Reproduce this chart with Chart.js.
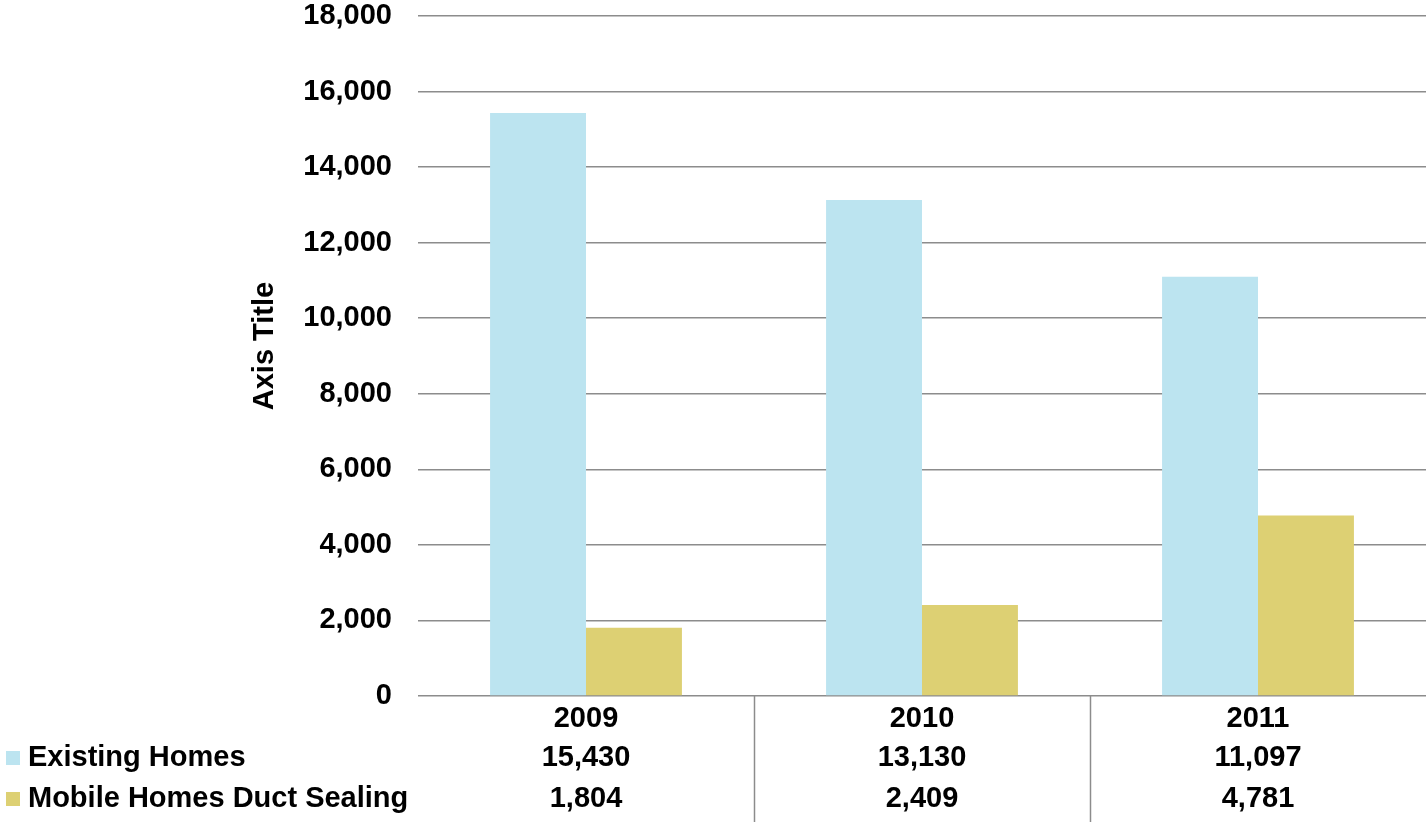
<!DOCTYPE html>
<html>
<head>
<meta charset="utf-8">
<title>Existing Homes and Mobile Homes Duct Sealing, 2009–2011</title>
<script src="https://cdn.jsdelivr.net/npm/chart.js@4/dist/chart.umd.min.js"></script>
<style>
  html, body { margin: 0; padding: 0; background: #ffffff; }
  #wrap { width: 1426px; height: 822px; }
</style>
</head>
<body>
<div id="wrap"><canvas id="chart" width="1426" height="822"></canvas></div>
<script>
// Years shown along the category axis and in the data table header
const categories = ['2009', '2010', '2011'];
// Series values
const existingHomes = [15430, 13130, 11097];
const mobileHomesDuctSealing = [1804, 2409, 4781];
// Series names
const seriesNames = ['Existing Homes', 'Mobile Homes Duct Sealing'];
// Value axis range
const yMin = 0;
const yMax = 18000;
const yStep = 2000;
const yAxisTitle = 'Axis Title';

const FONT = '"Liberation Sans", Arial, Helvetica, sans-serif';
const FONT_SIZE = 29;
const COLORS = ['#BCE4F0', '#DDD073'];
const GRID = '#8C8C8C';

const fmt = v => v.toLocaleString('en-US');

// Vertical value-axis title, sitting a little above the middle of the plot
const axisTitle = {
  id: 'axisTitle',
  afterDraw(chart) {
    const { ctx, chartArea } = chart;
    ctx.save();
    ctx.translate(265, (chartArea.top + chartArea.bottom) / 2 - 10);
    ctx.rotate(-Math.PI / 2);
    ctx.font = 'bold ' + FONT_SIZE + 'px ' + FONT;
    ctx.fillStyle = '#000000';
    ctx.textAlign = 'center';
    ctx.textBaseline = 'middle';
    ctx.fillText(yAxisTitle, 0, 0);
    ctx.restore();
  }
};

// Data table under the plot: legend keys, series names and values per year
const dataTable = {
  id: 'dataTable',
  afterDraw(chart) {
    const { ctx, chartArea, scales: { x } } = chart;
    const rows = [
      { name: seriesNames[0], color: COLORS[0], values: existingHomes, y: chartArea.bottom + 62 },
      { name: seriesNames[1], color: COLORS[1], values: mobileHomesDuctSealing, y: chartArea.bottom + 103 }
    ];
    ctx.save();
    // column separators
    ctx.strokeStyle = GRID;
    ctx.lineWidth = 1.5;
    for (let i = 1; i < categories.length; i++) {
      const xb = Math.round((x.getPixelForValue(i - 1) + x.getPixelForValue(i)) / 2) + 0.5;
      ctx.beginPath();
      ctx.moveTo(xb, chartArea.bottom);
      ctx.lineTo(xb, chart.height);
      ctx.stroke();
    }
    ctx.font = 'bold ' + FONT_SIZE + 'px ' + FONT;
    ctx.textBaseline = 'middle';
    rows.forEach(r => {
      ctx.fillStyle = r.color;
      ctx.fillRect(6, r.y - 7, 14, 14);
      ctx.fillStyle = '#000000';
      ctx.textAlign = 'left';
      ctx.fillText(r.name, 28, r.y);
      ctx.textAlign = 'center';
      r.values.forEach((v, i) => ctx.fillText(fmt(v), x.getPixelForValue(i), r.y));
    });
    ctx.restore();
  }
};

new Chart(document.getElementById('chart'), {
  type: 'bar',
  data: {
    labels: categories,
    datasets: [
      { label: seriesNames[0], data: existingHomes, backgroundColor: COLORS[0], borderWidth: 0 },
      { label: seriesNames[1], data: mobileHomesDuctSealing, backgroundColor: COLORS[1], borderWidth: 0 }
    ]
  },
  options: {
    responsive: false,
    animation: false,
    devicePixelRatio: 1,
    layout: { padding: { top: 16, right: 0, bottom: 0, left: 0 } },
    categoryPercentage: 0.571,
    barPercentage: 1.0,
    plugins: {
      legend: { display: false },
      tooltip: { enabled: false }
    },
    scales: {
      x: {
        grid: { display: false, drawTicks: false },
        border: { display: false },
        ticks: {
          color: '#000000',
          padding: 6,
          font: { family: FONT, size: FONT_SIZE, weight: 'bold' }
        },
        afterFit(scale) { scale.height = 126; scale.paddingLeft = 0; scale.paddingRight = 0; }
      },
      y: {
        min: yMin,
        max: yMax,
        grid: { color: GRID, lineWidth: 1.5, drawTicks: false },
        border: { display: false },
        ticks: {
          stepSize: yStep,
          color: '#000000',
          padding: 26,
          font: { family: FONT, size: FONT_SIZE, weight: 'bold' },
          callback: v => fmt(v)
        },
        afterFit(scale) { scale.width = 418; scale.paddingTop = 0; scale.paddingBottom = 0; }
      }
    }
  },
  plugins: [axisTitle, dataTable]
});
</script>
</body>
</html>
